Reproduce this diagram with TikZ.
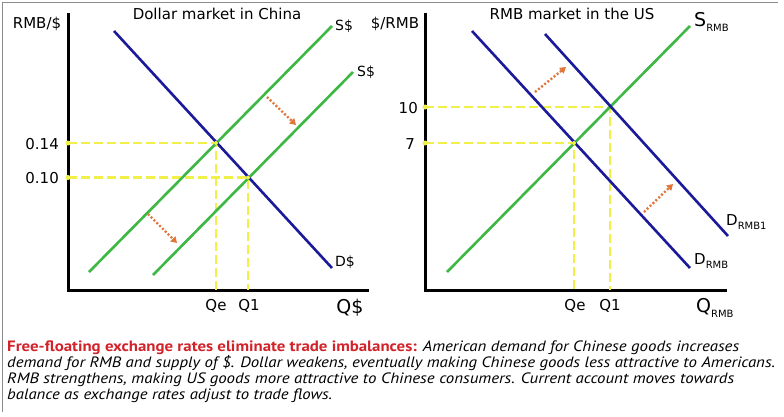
\documentclass[tikz,border=0pt]{standalone}
\usepackage{fontspec}
\setmainfont{DejaVu Sans}
\newfontfamily\bodyfont{PT Sans}
\usetikzlibrary{arrows.meta}
\definecolor{dblue}{HTML}{1A1A9A}
\definecolor{sgreen}{HTML}{3DB843}
\definecolor{dyellow}{HTML}{F0F048}
\definecolor{arrorange}{HTML}{E0763A}
\definecolor{hred}{HTML}{D2232A}
\definecolor{bordergray}{HTML}{8C8C8C}
\tikzset{
  axisline/.style={line width=3pt, black},
  demandline/.style={line width=2.6pt, dblue},
  supplyline/.style={line width=2.6pt, sgreen},
  guideline/.style={line width=2.6pt, dyellow, dash pattern=on 9pt off 4pt},
  shiftarrow/.style={line width=2.4pt, arrorange, dash pattern=on 2pt off 2pt, -{Triangle[length=6pt,width=7pt]}},
  guidedot/.style={circle, fill=dyellow, inner sep=0pt, minimum size=5pt},
  lbl/.style={inner sep=0pt, font=\fontsize{15}{15}\selectfont},
  smalllbl/.style={inner sep=0pt, font=\fontsize{14}{14}\selectfont},
  biglbl/.style={inner sep=0pt, font=\fontsize{19}{19}\selectfont},
  bodyline/.style={inner sep=0pt, anchor=base west, font=\bodyfont\fontsize{15}{15}\selectfont}
}
\newcommand{\subtxt}[1]{\raisebox{-4.5pt}{\fontsize{10}{10}\selectfont #1}}
\begin{document}
\begin{tikzpicture}[x=1pt,y=-1pt]
\useasboundingbox (0,0) rectangle (784,416);
\fill[white] (0,0) rectangle (784,416);
\draw[bordergray, line width=1pt] (2,412) -- (2,2) -- (778,2);

% ---------------- Left panel ----------------
\coordinate (Ltop) at (68,13);
\coordinate (Lorig) at (68,290);
\coordinate (Lright) at (369,290);
\draw[axisline] (Ltop) -- (Lorig) -- (Lright);

\coordinate (LD1) at (114,31);
\coordinate (LD2) at (332,268);
\coordinate (LSa1) at (89,272);
\coordinate (LSa2) at (332,26);
\coordinate (LSb1) at (153,275);
\coordinate (LSb2) at (353,72);
\coordinate (LEa) at (216,143);
\coordinate (LEb) at (248,177.5);
\coordinate (LYa) at (68,143);
\coordinate (LYb) at (68,177.5);
\coordinate (LXa) at (216,290);
\coordinate (LXb) at (248,290);

\draw[guideline] (LYa) -- (LEa) -- (LXa);
\draw[guideline] (LYb) -- (LEb) -- (LXb);
\node[guidedot] at (LYa) {};
\node[guidedot] at (LYb) {};

\draw[supplyline] (LSa1) -- (LSa2);
\draw[supplyline] (LSb1) -- (LSb2);
\draw[demandline] (LD1) -- (LD2);
\node[guidedot, minimum size=4pt] at (LEa) {};
\node[guidedot, minimum size=4pt] at (LEb) {};

\coordinate (LAr1s) at (267,97);
\coordinate (LAr1e) at (296,125);
\coordinate (LAr2s) at (148,214);
\coordinate (LAr2e) at (177,243);
\draw[shiftarrow] (LAr1s) -- (LAr1e);
\draw[shiftarrow] (LAr2s) -- (LAr2e);

\node[lbl] (ltitle) at (217,14) {Dollar market in China};
\node[lbl] (lylab) at (37,24) {RMB/\$};
\node[lbl, anchor=east] (l014) at (59,144) {0.14};
\node[lbl, anchor=east] (l010) at (59,178) {0.10};
\node[lbl] (lqe) at (216,306) {Qe};
\node[lbl] (lq1) at (249,306) {Q1};
\node[biglbl] (lqd) at (350,308) {Q\$};
\node[smalllbl, anchor=west] (lsa) at (335,26) {S\$};
\node[smalllbl, anchor=west] (lsb) at (357,72) {S\$};
\node[smalllbl, anchor=west] (ldd) at (335,262) {D\$};

% ---------------- Right panel ----------------
\coordinate (Rtop) at (425,13);
\coordinate (Rorig) at (425,290);
\coordinate (Rright) at (727,290);
\draw[axisline] (Rtop) -- (Rorig) -- (Rright);

\coordinate (RS1) at (447,272);
\coordinate (RS2) at (690,26);
\coordinate (RDa1) at (472,31);
\coordinate (RDa2) at (690,268);
\coordinate (RDb1) at (545,34);
\coordinate (RDb2) at (728,236);
\coordinate (REa) at (574,143);
\coordinate (REb) at (610,107);
\coordinate (RYa) at (425,143);
\coordinate (RYb) at (425,107);
\coordinate (RXa) at (574,290);
\coordinate (RXb) at (610,290);

\draw[guideline] (RYa) -- (REa) -- (RXa);
\draw[guideline] (RYb) -- (REb) -- (RXb);
\node[guidedot] at (RYa) {};
\node[guidedot] at (RYb) {};

\draw[supplyline] (RS1) -- (RS2);
\draw[demandline] (RDa1) -- (RDa2);
\draw[demandline] (RDb1) -- (RDb2);
\node[guidedot, minimum size=4pt] at (REa) {};

\coordinate (RAr1s) at (535,92);
\coordinate (RAr1e) at (566,67);
\coordinate (RAr2s) at (644,212);
\coordinate (RAr2e) at (673,184);
\draw[shiftarrow] (RAr1s) -- (RAr1e);
\draw[shiftarrow] (RAr2s) -- (RAr2e);

\node[lbl] (rtitle) at (572,14) {RMB market in the US};
\node[lbl] (rylab) at (395,24) {\$/RMB};
\node[lbl, anchor=east] (r10) at (418,108) {10};
\node[lbl, anchor=east] (r7) at (415,144) {7};
\node[lbl] (rqe) at (575,306) {Qe};
\node[lbl] (rq1) at (610,306) {Q1};
\node[biglbl, anchor=west] (rqr) at (696,308) {Q\subtxt{RMB}};
\node[biglbl, anchor=west] (rsr) at (694,22) {S\subtxt{RMB}};
\node[lbl, anchor=west] (rdr) at (694,261) {D\subtxt{RMB}};
\node[lbl, anchor=west] (rdr1) at (726,222) {D\subtxt{RMB1}};

% ---------------- Caption ----------------
\node[bodyline] (cap1) at (7,351) {\resizebox{732pt}{\height}{{\color{hred}\bfseries Free-floating exchange rates eliminate trade imbalances:} \itshape American demand for Chinese goods increases}};
\node[bodyline] (cap2) at (7,367) {\resizebox{768pt}{\height}{\itshape demand for RMB and supply of \$. Dollar weakens, eventually making Chinese goods less attractive to Americans.}};
\node[bodyline] (cap3) at (7,383) {\resizebox{727pt}{\height}{\itshape RMB strengthens, making US goods more attractive to Chinese consumers. Current account moves towards}};
\node[bodyline] (cap4) at (7,399) {\resizebox{325pt}{\height}{\itshape balance as exchange rates adjust to trade flows.}};
\end{tikzpicture}
\end{document}
